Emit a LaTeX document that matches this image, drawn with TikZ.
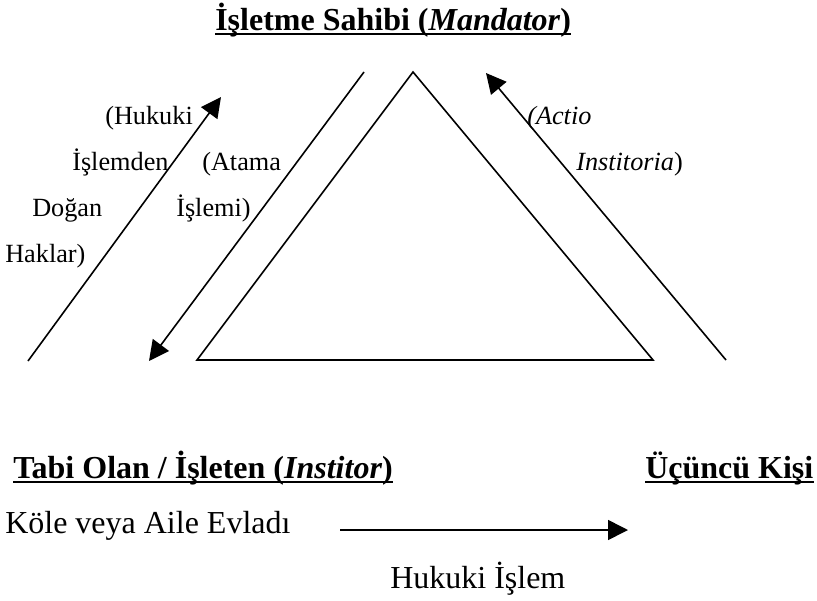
\documentclass[tikz,border=0pt]{standalone}
\usepackage{fontspec}
\setmainfont{Liberation Serif}
\usetikzlibrary{arrows.meta}

\tikzset{
  bigtext/.style={anchor=base west, inner sep=0pt, font=\fontsize{24}{28}\selectfont},
  headtext/.style={bigtext, font=\fontsize{24}{28}\selectfont\bfseries},
  smalltext/.style={anchor=base west, inner sep=0pt, font=\fontsize{19.7}{23}\selectfont},
  arr/.style={-{Triangle[length=15pt,width=15pt]}, line width=1.2pt},
}

\begin{document}
\begin{tikzpicture}[x=0.75pt, y=-0.75pt]
    \useasboundingbox (0,0) rectangle (817,600);
    % headings
    \node[headtext] (owner) at (215,30) {İşletme Sahibi (\textit{Mandator})};
    \node[headtext] (agent) at (13,478) {Tabi Olan / İşleten (\textit{Institor})};
    \node[headtext] (third) at (645,478) {Üçüncü Kişi};
    \foreach \n in {owner,agent,third}{
      \draw[line width=1.2pt] ([yshift=-3pt]\n.base west) -- ([yshift=-3pt]\n.base east);
    }
    % triangle
    \coordinate (top) at (413,72);
    \coordinate (bl) at (197,360);
    \coordinate (br) at (653,360);
    \draw[line width=1.2pt] (top) -- (bl) -- (br) -- cycle;
    % arrows round it
    \coordinate (rs) at (28,361);
    \coordinate (re) at (221,97);
    \coordinate (as) at (364,72);
    \coordinate (ae) at (149,361);
    \coordinate (ps) at (726,360);
    \coordinate (pe) at (486,73);
    \draw[arr] (rs) -- (re);
    \draw[arr] (as) -- (ae);
    \draw[arr] (ps) -- (pe);
    % labels
    \node[smalltext] (r1) at (105,124) {(Hukuki};
    \node[smalltext] (r2) at (72,170) {İşlemden};
    \node[smalltext] (r3) at (32,216) {Doğan};
    \node[smalltext] (r4) at (5,262) {Haklar)};
    \node[smalltext] (a1) at (202,170) {(Atama};
    \node[smalltext] (a2) at (176,216) {İşlemi)};
    \node[smalltext] (p1) at (527,124) {\textit{(Actio}};
    \node[smalltext] (p2) at (576,170) {\textit{Institoria})};
    % legal act
    \node[bigtext] (slave) at (5,533) {Köle veya Aile Evladı};
    \coordinate (ls) at (340,530);
    \coordinate (le) at (628,530);
    \draw[arr] (ls) -- (le);
    \node[bigtext] (act) at (390,588) {Hukuki İşlem};
\end{tikzpicture}
\end{document}
